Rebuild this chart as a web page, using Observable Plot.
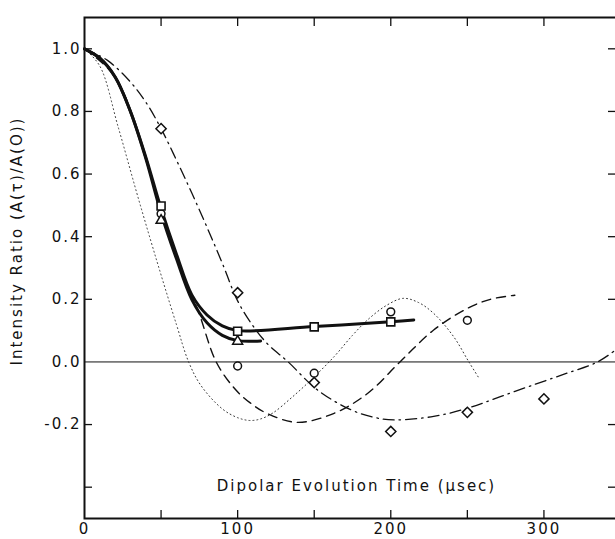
<!DOCTYPE html>
<html><head><meta charset="utf-8">
<script src="https://cdn.jsdelivr.net/npm/d3@7"></script>
<script src="https://cdn.jsdelivr.net/npm/@observablehq/plot@0.6"></script>
<style>html,body{margin:0;padding:0;background:#fff;overflow:hidden;width:615px;height:539px}</style>
</head><body><div id="chart"></div>
<script>
// Tick labels and tick marks
const xTickLabels = [0, 100, 200, 300];
const xTickMarks = [50, 100, 150, 200, 250, 300];
const yTickLabels = [1.0, 0.8, 0.6, 0.4, 0.2, 0.0, -0.2];
const yTickMarks = [1.0, 0.8, 0.6, 0.4, 0.2, -0.2, -0.4];
const xLabel = "Dipolar Evolution Time (\u03BCsec)";
const yLabel = "Intensity Ratio (A(\u03C4)/A(O))";

// Measured points
const squareX = [50, 100, 150, 200];
const squareY = [0.498, 0.098, 0.112, 0.128];
const triangleX = [50, 100];
const triangleY = [0.452, 0.066];
const circleX = [50, 100, 150, 200, 250];
const circleY = [0.473, -0.013, -0.036, 0.16, 0.133];
const diamondX = [50, 100, 150, 200, 250, 300];
const diamondY = [0.745, 0.221, -0.066, -0.222, -0.161, -0.118];

// Curves
const thickUpperX = [0, 10, 20, 30, 40, 50, 60, 70, 80, 90, 100, 150, 200, 215];
const thickUpperY = [1.0, 0.97, 0.91, 0.80, 0.655, 0.49, 0.345, 0.215, 0.15, 0.115, 0.10, 0.113, 0.128, 0.134];
const thickLowerX = [0, 10, 20, 30, 40, 50, 60, 70, 80, 90, 100, 115];
const thickLowerY = [1.0, 0.97, 0.91, 0.80, 0.65, 0.475, 0.33, 0.20, 0.125, 0.085, 0.068, 0.067];
const dottedX = [0, 10, 22, 35, 48, 60, 68, 76, 90, 100, 108, 115, 123, 135, 148, 163, 175, 185, 197, 208, 218, 228, 241, 251, 258];
const dottedY = [1.0, 0.945, 0.75, 0.525, 0.31, 0.12, 0.0, -0.075, -0.15, -0.178, -0.187, -0.182, -0.163, -0.115, -0.057, 0.017, 0.085, 0.135, 0.18, 0.203, 0.19, 0.155, 0.081, 0.0, -0.055];
const dashedX = [0, 20, 40, 50, 63, 74, 86, 98, 108, 119, 139, 163, 185, 206, 228, 250, 265, 281];
const dashedY = [1.0, 0.91, 0.65, 0.475, 0.29, 0.166, 0.0, -0.085, -0.13, -0.164, -0.193, -0.164, -0.1, 0.0, 0.102, 0.171, 0.200, 0.213];
const dashDotX = [0, 15, 30, 40, 50, 60, 70, 80, 90, 100, 110, 120, 133, 152, 174, 190, 202, 228, 250, 272, 295, 315, 335, 350];
const dashDotY = [1.0, 0.963, 0.894, 0.83, 0.745, 0.645, 0.54, 0.43, 0.315, 0.195, 0.115, 0.055, 0.0, -0.089, -0.153, -0.178, -0.185, -0.174, -0.148, -0.11, -0.07, -0.036, 0.0, 0.05];

const rows = (xs, ys) => xs.map((x, i) => ({x, y: ys[i]}));
const ink = "#111";

const plot = Plot.plot({
  width: 620,
  height: 539,
  marginLeft: 84,
  marginRight: 0,
  marginTop: 17,
  marginBottom: 21,
  x: {domain: [0, 350]},
  y: {domain: [-0.5, 1.1]},
  style: {fontFamily: "DejaVu Sans", fontSize: "15px", letterSpacing: "2px", background: "white", maxWidth: "none", color: ink},
  marks: [
    Plot.ruleY([0], {stroke: ink, strokeWidth: 1}),
    Plot.line(rows(dottedX, dottedY), {x: "x", y: "y", curve: "catmull-rom", stroke: "#333", strokeWidth: 1, strokeDasharray: "1,3"}),
    Plot.line(rows(dashedX, dashedY), {x: "x", y: "y", curve: "catmull-rom", stroke: ink, strokeWidth: 1.4, strokeDasharray: "9,6"}),
    Plot.line(rows(dashDotX, dashDotY), {x: "x", y: "y", curve: "catmull-rom", stroke: ink, strokeWidth: 1.3, strokeDasharray: "11,5,1.5,5"}),
    Plot.line(rows(thickLowerX, thickLowerY), {x: "x", y: "y", curve: "catmull-rom", stroke: ink, strokeWidth: 3}),
    Plot.line(rows(thickUpperX, thickUpperY), {x: "x", y: "y", curve: "catmull-rom", stroke: ink, strokeWidth: 3}),
    Plot.dot(rows(diamondX, diamondY), {x: "x", y: "y", symbol: "diamond2", r: 4.6, fill: "white", stroke: ink, strokeWidth: 1.5}),
    Plot.dot(rows(circleX, circleY), {x: "x", y: "y", symbol: "circle", r: 3.9, fill: "white", stroke: ink, strokeWidth: 1.5}),
    Plot.dot(rows(triangleX, triangleY), {x: "x", y: "y", symbol: "triangle", r: 3.7, fill: "white", stroke: ink, strokeWidth: 1.5}),
    Plot.dot(rows(squareX, squareY), {x: "x", y: "y", symbol: "square", r: 4.5, fill: "white", stroke: ink, strokeWidth: 1.6}),
    Plot.frame({stroke: ink, strokeWidth: 2}),
    Plot.tickX(xTickMarks, {x: d => d, insetTop: 493, stroke: ink, strokeWidth: 1.3}),
    Plot.tickX(xTickMarks, {x: d => d, insetBottom: 492, stroke: ink, strokeWidth: 1.3}),
    Plot.tickY(yTickMarks, {y: d => d, insetRight: 528, stroke: ink, strokeWidth: 1.3}),
    Plot.tickY(yTickMarks, {y: d => d, insetLeft: 524, stroke: ink, strokeWidth: 1.3}),
    Plot.axisX(xTickLabels, {tickSize: 0, tickPadding: 5, tickFormat: d => String(d), label: null, fill: ink}),
    Plot.axisY(yTickLabels, {tickSize: 0, tickPadding: 3, tickFormat: d => d.toFixed(1), label: null, fill: ink}),
    Plot.text([xLabel], {frameAnchor: "bottom", textAnchor: "middle", dx: 4, dy: -32, lineAnchor: "middle", fill: ink}),
    Plot.text([yLabel], {frameAnchor: "left", textAnchor: "middle", dx: -67, dy: -27, rotate: -90, lineAnchor: "middle", fill: ink})
  ]
});
document.getElementById("chart").appendChild(plot);
</script>
</body></html>
